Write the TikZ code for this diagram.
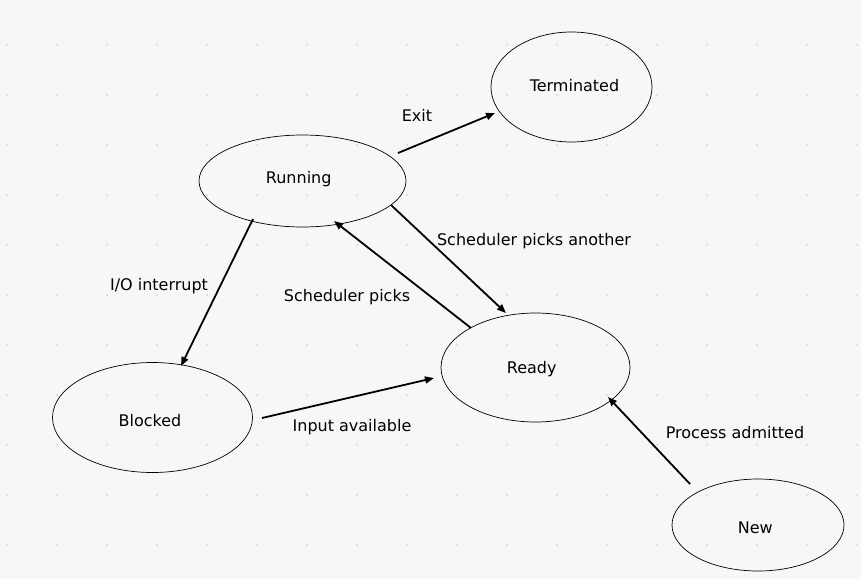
\documentclass[tikz,border=0pt]{standalone}
\usepackage{fontspec}
\setmainfont{DejaVu Sans}
\usetikzlibrary{shapes.geometric,arrows.meta}
\begin{document}
\begin{tikzpicture}[x=1pt,y=-1pt,
    state/.style={draw,ellipse,line width=0.7pt,inner sep=0pt},
    trans/.style={-{Triangle[length=9pt,width=7pt]},line width=1.8pt},
    lbl/.style={anchor=base,inner sep=0pt},
    font=\fontsize{16}{19}\selectfont]
  \fill[black!3] (0,0) rectangle (861,579);
  \useasboundingbox (0,0) rectangle (861,579);
  \foreach \x in {7,57,...,857}
    \foreach \y in {45,95,...,545}
      \fill[black!15] (\x,\y) circle (1.1);
  % states
  \node[state,minimum width=161,minimum height=110] (term) at (571.5,87) {};
  \node[state,minimum width=207,minimum height=92] (run) at (302.5,181) {};
  \node[state,minimum width=189,minimum height=109] (ready) at (535.5,367.5) {};
  \node[state,minimum width=200,minimum height=110] (blk) at (152.5,417.5) {};
  \node[state,minimum width=172,minimum height=92] (new) at (758,525) {};
  \node[lbl] (tterm) at (574.5,91) {Terminated};
  \node[lbl] (trun) at (298.7,183.3) {Running};
  \node[lbl] (tready) at (531.7,373.3) {Ready};
  \node[lbl] (tblk) at (150,426) {Blocked};
  \node[lbl] (tnew) at (755.3,533.3) {New};
  % arrow ends
  \coordinate (r1) at (398,153);
  \coordinate (t1) at (495,113);
  \coordinate (r2) at (391,205);
  \coordinate (q1) at (506,313);
  \coordinate (q2) at (471,328);
  \coordinate (r3) at (334,221);
  \coordinate (r4) at (253,219);
  \coordinate (b1) at (181,366);
  \coordinate (b2) at (262,418);
  \coordinate (q3) at (434,378);
  \coordinate (n1) at (690,484);
  \coordinate (q4) at (608,397);
  \draw[trans] (r1) -- (t1);
  \draw[trans] (r2) -- (q1);
  \draw[trans] (q2) -- (r3);
  \draw[trans] (r4) -- (b1);
  \draw[trans] (b2) -- (q3);
  \draw[trans] (n1) -- (q4);
  % labels
  \node[lbl] (lexit) at (417,121.7) {Exit};
  \node[lbl] (lanother) at (534,245) {Scheduler picks another};
  \node[lbl] (lpicks) at (347,301) {Scheduler picks};
  \node[lbl] (lio) at (159,290.7) {I/O interrupt};
  \node[lbl] (linput) at (352,431.7) {Input available};
  \node[lbl] (ladmit) at (735,438) {Process admitted};
\end{tikzpicture}
\end{document}
